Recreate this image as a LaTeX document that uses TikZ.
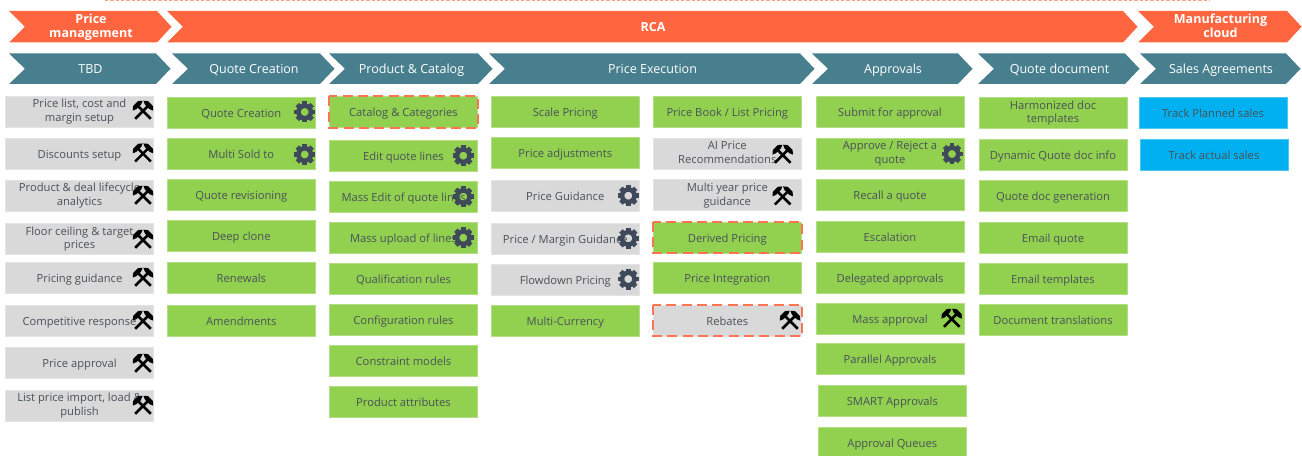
\documentclass[tikz,border=0pt]{standalone}
\usepackage{fontspec}
\setmainfont{Open Sans}
\definecolor{rcaorange}{HTML}{FF6640}
\definecolor{headteal}{HTML}{487F8E}
\definecolor{boxgreen}{HTML}{92D050}
\definecolor{boxgray}{HTML}{D9D9D9}
\definecolor{boxblue}{HTML}{00B0F0}
\definecolor{boxtext}{HTML}{4A5258}
\definecolor{gearcol}{HTML}{3E4A59}
\newcommand{\labelstrut}{\vrule width 0pt height 0.92\baselineskip depth 0.25\baselineskip}
\tikzset{
  strutted/.style={execute at begin node=\labelstrut,execute at end node=\labelstrut},
  twolines/.style={text height=14.6pt,text depth=0pt},
  toptwolines/.style={text height=16pt,text depth=0pt},
  itembox/.style={draw=#1!70!white,fill=#1,line width=0.5pt,minimum width=111pt,minimum height=23.25pt,
    inner sep=0pt,align=center,text=boxtext,strutted,font=\fontsize{8.4}{10.1}\selectfont},
  greenbox/.style={itembox=boxgreen},
  graybox/.style={itembox=boxgray},
  bluebox/.style={itembox=boxblue},
  redash/.style={draw=rcaorange!90!white,line width=1.5pt,dash pattern=on 7.5pt off 4pt},
  headtext/.style={text=white,align=center,inner sep=0pt,strutted,font=\fontsize{9.4}{11}\selectfont},
  toptext/.style={text=white,align=center,inner sep=0pt,strutted,font=\fontsize{9.4}{10.6}\selectfont\bfseries},
  gearicon/.pic={
    \foreach \a in {0,45,...,315}
      \fill[gearcol,rotate=\a] (-2.4,-6) rectangle (2.4,-10.5);
    \draw[gearcol,line width=3.4pt] (0,0) circle (6.2);
  },
  hammericon/.pic={
    \foreach \r in {45,-45}{
      \begin{scope}[rotate=\r]
        \draw[black,line width=1.9pt] (0,11) -- (0,-7);
        \fill[black] (-7,-7.5) -- (-3.5,-10.5) -- (3.5,-10.5) -- (7,-7.5) -- (3.5,-6) -- (-3.5,-6) -- cycle;
      \end{scope}
    }
  }
}
\newcommand{\chevron}[9]{%
  \fill[#1] (#3,#5) -- (#4,#5) -- (#4+14.5,#5/2+#6/2) -- (#4,#6) -- (#2,#6) -- (#2+16,#5/2+#6/2) -- cycle;
  \node[#7] (#8) at ({(#2+#4+16)/2},{#5/2+#6/2}) {#9};
}
\begin{document}
\begin{tikzpicture}[x=0.75pt,y=-0.75pt]
  \clip (0,0) rectangle (1302,456);
  % faint line along the top
  \coordinate (topleft) at (105,0.5);
  \coordinate (topright) at (1210,0.5);
  \draw[rcaorange!60!white,line width=0.6pt,dash pattern=on 2.5pt off 1.5pt] (topleft) -- (topright);
  % products
  \chevron{rcaorange}{9}{9}{157}{11}{42.5}{toptext,toptwolines}{pricemgmt}{Price\\management}
  \chevron{rcaorange}{167}{167}{1123}{11}{42.5}{toptext}{rca}{RCA}
  \chevron{rcaorange}{1138}{1138}{1287}{11}{42.5}{toptext,toptwolines}{mfgcloud}{Manufacturing\\cloud}
  % column heads
  \chevron{headteal}{9}{9}{156}{53.5}{84}{headtext}{tbd}{TBD}
  \chevron{headteal}{172}{172}{320}{53.5}{84}{headtext}{quotecreation}{Quote Creation}
  \chevron{headteal}{329}{329}{478}{53.5}{84}{headtext}{prodcatalog}{Product \& Catalog}
  \chevron{headteal}{489}{489}{800}{53.5}{84}{headtext}{priceexec}{Price Execution}
  \chevron{headteal}{812}{812}{958}{53.5}{84}{headtext}{approvals}{Approvals}
  \chevron{headteal}{978}{978}{1125}{53.5}{84}{headtext}{quotedoc}{Quote document}
  \chevron{headteal}{1140}{1140}{1286}{53.5}{84}{headtext}{salesagr}{Sales Agreements}
  % TBD
  \node[graybox,twolines] (pricelist) at (79.5,111.5) {Price list, cost and\\margin setup};
  \node[graybox] (discounts) at (79.5,154) {Discounts setup};
  \node[graybox,twolines] (lifecycle) at (79.5,195.5) {Product \& deal lifecycle\\analytics};
  \node[graybox,twolines] (floorceil) at (79.5,239) {Floor ceiling \& target\\prices};
  \node[graybox] (pricingguid) at (79.5,277.5) {Pricing guidance};
  \node[graybox] (competitive) at (79.5,320.5) {Competitive response};
  \node[graybox] (priceappr) at (79.5,363) {Price approval};
  \node[graybox,twolines] (listimport) at (79.5,405.5) {List price import, load \&\\publish};
  \foreach \y in {111,153.7,196,240,278,321,364,406}
    \pic at (143,\y) {hammericon};
  % Quote Creation
  \node[greenbox] (qcreation) at (241.3,112.5) {Quote Creation};
  \node[greenbox] (multisold) at (241.3,154.3) {Multi Sold to};
  \node[greenbox] (revision) at (241.3,195.3) {Quote revisioning};
  \node[greenbox] (deepclone) at (241.3,236) {Deep clone};
  \node[greenbox] (renewals) at (241.3,277.5) {Renewals};
  \node[greenbox] (amend) at (241.3,320.5) {Amendments};
  \pic at (304.7,112) {gearicon};
  \pic at (304.7,154.5) {gearicon};
  % Product & Catalog
  \node[greenbox] (catalog) at (403.5,112.3) {Catalog \& Categories};
  \draw[redash] (catalog.north west) rectangle (catalog.south east);
  \node[greenbox] (editlines) at (403.5,155.5) {Edit quote lines};
  \node[greenbox] (massedit) at (403.5,197) {Mass Edit of quote lines};
  \node[greenbox] (massupload) at (403.5,238) {Mass upload of lines};
  \node[greenbox] (qualrules) at (403.5,279) {Qualification rules};
  \node[greenbox] (confrules) at (403.5,320) {Configuration rules};
  \node[greenbox] (constraint) at (403.5,361) {Constraint models};
  \node[greenbox] (prodattr) at (403.5,401.5) {Product attributes};
  \pic at (463.3,155.7) {gearicon};
  \pic at (463.3,196.7) {gearicon};
  \pic at (463.3,237.7) {gearicon};
  % Price Execution, left
  \node[greenbox] (scale) at (565.3,112.3) {Scale Pricing};
  \node[greenbox] (adjust) at (565.3,153.3) {Price adjustments};
  \node[graybox] (priceguid) at (565.3,195.5) {Price Guidance};
  \node[graybox] (marginguid) at (565.3,238.5) {Price / Margin Guidance};
  \node[graybox] (flowdown) at (565.3,279.5) {Flowdown Pricing};
  \node[greenbox] (multicur) at (565.3,320.5) {Multi-Currency};
  \pic at (628.3,195.7) {gearicon};
  \pic at (628.3,238.3) {gearicon};
  \pic at (628.3,279) {gearicon};
  % Price Execution, right
  \node[greenbox] (pricebook) at (727.3,112.2) {Price Book / List Pricing};
  \node[graybox,twolines] (airecom) at (727.3,153.5) {AI Price\\Recommendations};
  \node[graybox,twolines] (multiyear) at (727.3,195.3) {Multi year price\\guidance};
  \node[greenbox] (derived) at (727.3,237.5) {Derived Pricing};
  \draw[redash] (derived.north west) rectangle (derived.south east);
  \node[greenbox] (integration) at (727.3,277.8) {Price Integration};
  \node[graybox] (rebates) at (727.3,320.5) {Rebates};
  \draw[redash] (rebates.north west) rectangle (rebates.south east);
  \pic at (782.7,155) {hammericon};
  \pic at (782.7,196.7) {hammericon};
  \pic at (790,321) {hammericon};
  % Approvals
  \node[greenbox] (submit) at (890,112.2) {Submit for approval};
  \node[greenbox,twolines] (approve) at (890,153.5) {Approve / Reject a\\quote};
  \node[greenbox] (recall) at (890,195.3) {Recall a quote};
  \node[greenbox] (escal) at (890,237) {Escalation};
  \node[greenbox] (delegated) at (890,278) {Delegated approvals};
  \node[greenbox] (massappr) at (890,318.8) {Mass approval};
  \node[greenbox] (parallel) at (890,359.3) {Parallel Approvals};
  \node[greenbox] (smart) at (892.3,401.3) {SMART Approvals};
  \node[greenbox] (queues) at (892.3,443.3) {Approval Queues};
  \pic at (952,154) {gearicon};
  \pic at (951.7,319) {hammericon};
  % Quote document
  \node[greenbox,twolines] (harmonized) at (1053,112.8) {Harmonized doc\\templates};
  \node[greenbox] (dynamic) at (1053,155) {Dynamic Quote doc info};
  \node[greenbox] (docgen) at (1053,196) {Quote doc generation};
  \node[greenbox] (emailquote) at (1053,238) {Email quote};
  \node[greenbox] (emailtmpl) at (1053,279) {Email templates};
  \node[greenbox] (translate) at (1053,320) {Document translations};
  % Sales Agreements
  \node[bluebox] (planned) at (1213,112.8) {Track Planned sales};
  \node[bluebox] (actual) at (1214,155) {Track actual sales};
\end{tikzpicture}
\end{document}
